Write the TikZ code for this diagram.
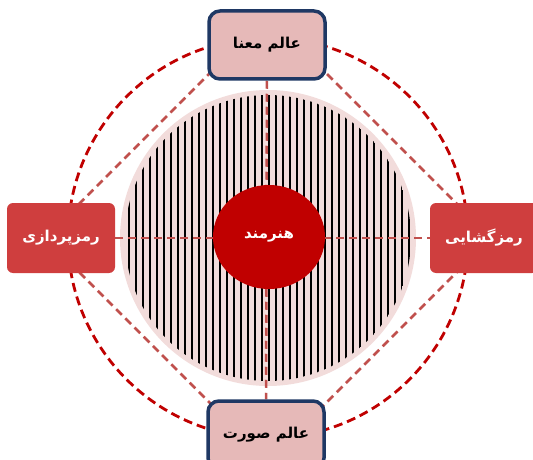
\documentclass[tikz,border=0pt]{standalone}
\usepackage{fontspec}
\usetikzlibrary{shapes.geometric}
\newfontfamily\arabicfont[Script=Arabic]{DejaVu Sans}
\TeXXeTstate=1
\pgfdeclarelayer{back}
\pgfdeclarelayer{mid}
\pgfsetlayers{back,mid,main}
\definecolor{boxpink}{HTML}{E6B9B8}
\definecolor{navy}{HTML}{1F3864}
\definecolor{boxred}{HTML}{CF3E3E}
\definecolor{hatchpink}{HTML}{F2DCDB}
\definecolor{darkred}{HTML}{C00000}
\definecolor{linered}{HTML}{C0504D}
\begin{document}
\begin{tikzpicture}[x=1pt,y=-1pt,
  worldbox/.style={draw=navy, line width=3.5pt, fill=boxpink, rounded corners=11pt,
    minimum width=116pt, minimum height=68pt, text=black,
    font=\arabicfont\bfseries\fontsize{15}{18}\selectfont},
  actbox/.style={fill=boxred, rounded corners=6pt,
    minimum width=108pt, minimum height=70pt, text=white,
    font=\arabicfont\bfseries\fontsize{15}{18}\selectfont},
  crossline/.style={linered, line width=2.5pt, dash pattern=on 8pt off 5pt},
  ringline/.style={darkred, line width=2.8pt, dash pattern=on 9pt off 5pt}]
\clip (0,0) rectangle (533,460);
% centre and nodes
\coordinate (c) at (268,238);
\node[ellipse, fill=darkred, minimum width=112pt, minimum height=104pt, inner sep=0pt,
  text=white, font=\arabicfont\bfseries\fontsize{15}{18}\selectfont]
  (artist) at (269,237) {\beginR هنرمند\endR};
\node[worldbox] (meaning) at (267,45) {\beginR عالم معنا\endR};
\node[worldbox] (form) at (266,435) {\beginR عالم صورت\endR};
\node[actbox] (encode) at (61,238) {\beginR رمزپردازی\endR};
\node[actbox] (decode) at (484,238) {\beginR رمزگشایی\endR};
% diamond corners
\coordinate (dt) at (268,15);
\coordinate (db) at (268,461);
\coordinate (dl) at (45,238);
\coordinate (dr) at (491,238);
\begin{pgfonlayer}{back}
\draw[ringline] (c) circle (200);
\draw[crossline] (dt) -- (dl) -- (db) -- (dr) -- cycle;
\fill[hatchpink] (c) circle (148);
\begin{scope}
\clip (c) circle (143);
\foreach \x in {122,129,...,416}
  \draw[black, line width=1.3pt] (\x,80) -- (\x,400);
\end{scope}
\end{pgfonlayer}
\begin{pgfonlayer}{mid}
\draw[crossline] (encode) -- (decode);
\draw[crossline] (meaning) -- (form);
\end{pgfonlayer}
\end{tikzpicture}
\end{document}
